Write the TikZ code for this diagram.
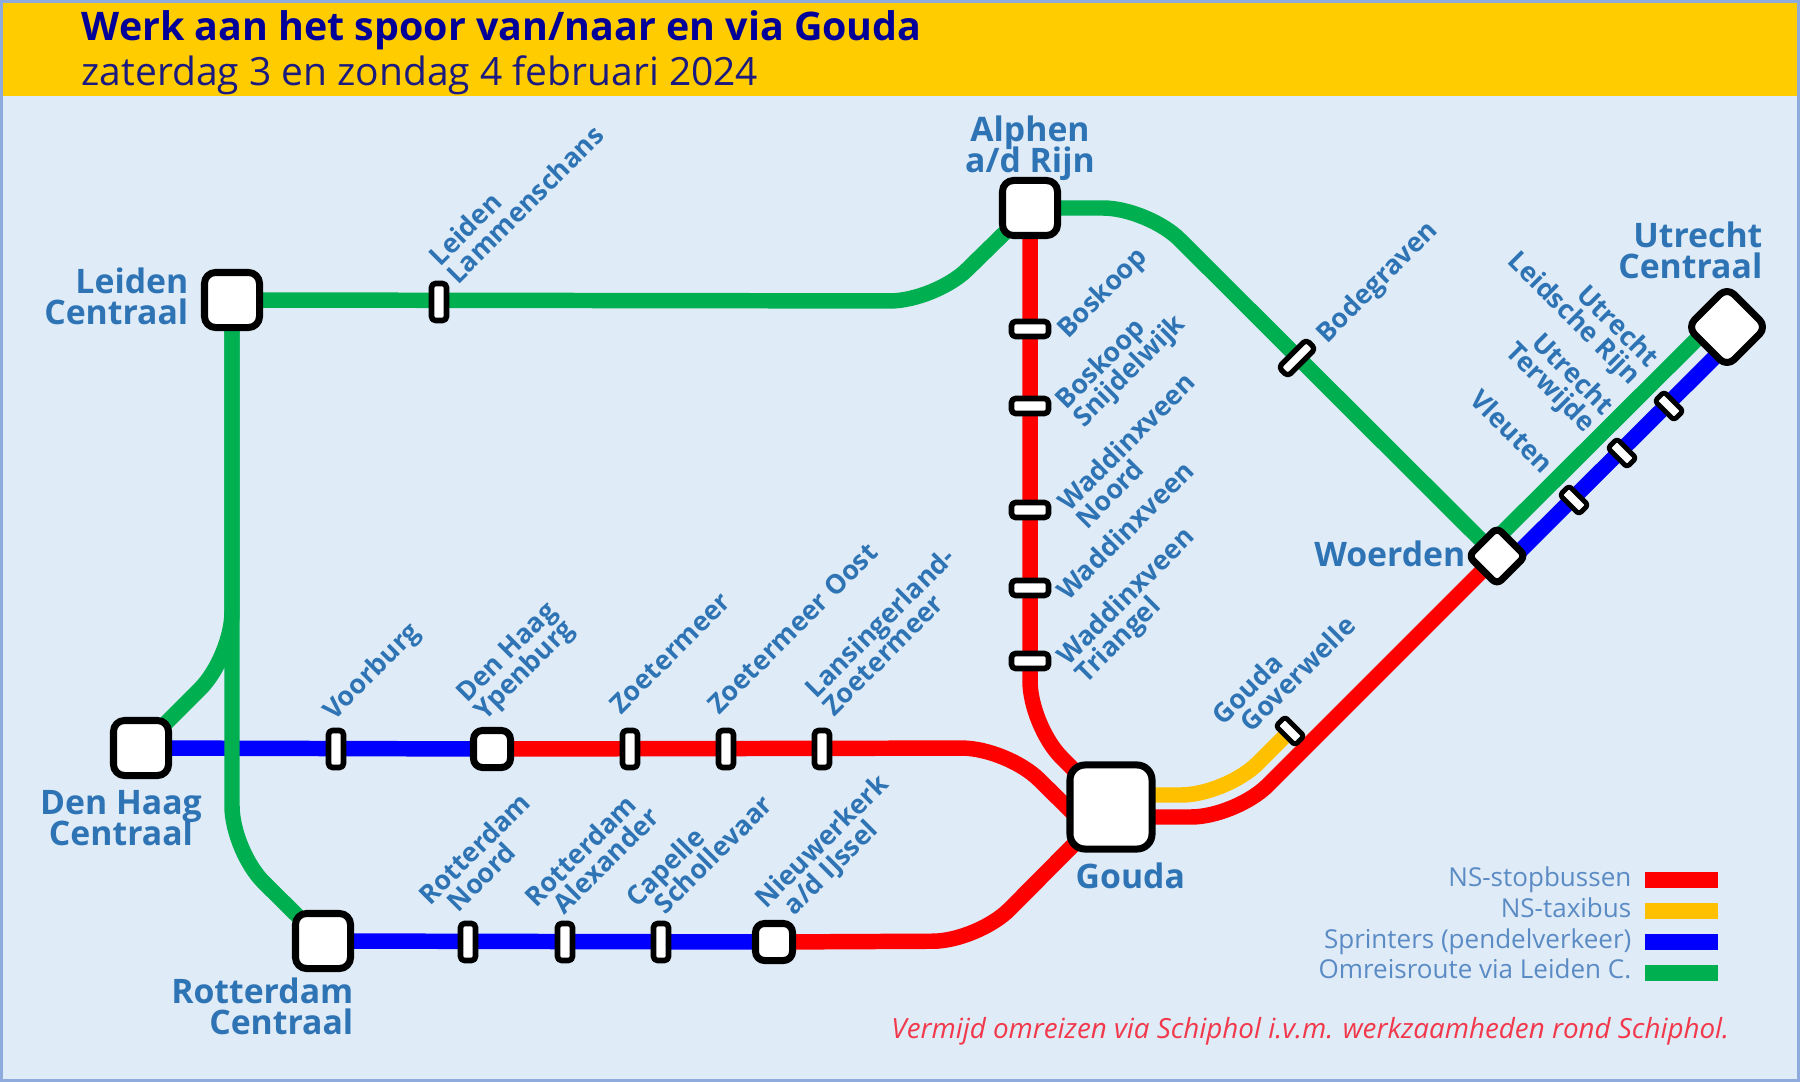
\documentclass[tikz,border=0pt]{standalone}
\usepackage{fontspec}
\setmainfont{Open Sans}
\newfontfamily\semifont{Open Sans Bold}
\usetikzlibrary{backgrounds}
\newcommand{\tightlines}{\lineskiplimit-50pt\relax}
\newcommand{\indented}{\hspace*{4.3pt}}
\definecolor{panelblue}{HTML}{DFEBF7}
\definecolor{borderblue}{HTML}{8FAADC}
\definecolor{headyellow}{HTML}{FFCC00}
\definecolor{titleblue}{HTML}{000099}
\definecolor{subblue}{HTML}{1A1A80}
\definecolor{labelblue}{HTML}{2E74B5}
\definecolor{legendblue}{HTML}{5B8BC4}
\definecolor{routegreen}{HTML}{00B050}
\definecolor{routeyellow}{HTML}{FFC000}
\definecolor{warnred}{HTML}{F2394B}
\begin{document}
\begin{tikzpicture}[x=0.01cm,y=-0.01cm,line join=round,
    hub/.style={draw=black,line width=2pt,fill=white,rounded corners=1.1mm,inner sep=0pt,minimum size=5.5mm},
    smallhub/.style={hub,rounded corners=0.9mm,minimum size=3.7mm},
    tiltedhub/.style={hub,rotate=45,minimum size=4mm,rounded corners=0.6mm},
    stopup/.style={draw=black,line width=1.6pt,fill=white,rounded corners=0.4mm,inner sep=0pt,minimum width=1.5mm,minimum height=3.7mm},
    stopflat/.style={stopup,minimum width=3.7mm,minimum height=1.5mm},
    stoptilt/.style={stopup,rotate=-45,line width=1.4pt,minimum width=2.7mm,minimum height=1.3mm,rounded corners=0.3mm},
    route/.style={line width=4.4pt,rounded corners=0.45cm},
    biglabel/.style={text=labelblue,inner sep=0pt,text depth=0pt,font=\semifont\fontsize{9.6}{8.8}\selectfont\tightlines},
    uplabel/.style={text=labelblue,inner sep=0pt,text depth=0pt,rotate=45,anchor=south west,align=left,font=\semifont\fontsize{7.6}{7.1}\selectfont\tightlines},
    downlabel/.style={text=labelblue,inner sep=0pt,text depth=0pt,rotate=-45,anchor=south east,align=right,font=\semifont\fontsize{7.6}{7.1}\selectfont\tightlines},
    swatch/.style={inner sep=0pt,minimum width=7.3mm,minimum height=1.6mm},
    legendtext/.style={text=legendblue,inner sep=0pt,anchor=base east,font=\fontsize{7.4}{8}\selectfont}]
\useasboundingbox (0,0) rectangle (1800,1082);
% stations
\node[hub] (leiden) at (232,300) {};
\node[hub] (alphen) at (1030,208) {};
\node[hub] (denhaag) at (141,748) {};
\node[hub] (rotterdam) at (323,941) {};
\node[hub,minimum width=8.2mm,minimum height=8.4mm,rounded corners=1.5mm] (gouda) at (1111,807) {};
\node[tiltedhub] (woerden) at (1497,556) {};
\node[tiltedhub,minimum size=5.6mm,rounded corners=1mm] (utrecht) at (1727,327) {};
\node[smallhub] (ypenburg) at (492,749) {};
\node[smallhub] (nieuwerkerk) at (774,942) {};
% stops
\node[stopup] (lammenschans) at (439,302) {};
\node[stopup] (voorburg) at (336,749) {};
\node[stopup] (zoetermeer) at (630,749) {};
\node[stopup] (zoetermeeroost) at (726,749) {};
\node[stopup] (lansingerland) at (822,749) {};
\node[stopup] (rnoord) at (468,942) {};
\node[stopup] (ralexander) at (565,942) {};
\node[stopup] (capelle) at (661,942) {};
\node[stopflat] (boskoop) at (1030,329) {};
\node[stopflat] (snijdelwijk) at (1030,406) {};
\node[stopflat] (wnoord) at (1030,510) {};
\node[stopflat] (waddinxveen) at (1030,588) {};
\node[stopflat] (triangel) at (1030,661) {};
\node[stopup,rotate=45,minimum width=3.9mm,minimum height=1.3mm,line width=1.5pt] (bodegraven) at (1297,358) {};
\node[stoptilt] (goverwelle) at (1290,731) {};
\node[stoptilt] (vleuten) at (1574,500) {};
\node[stoptilt] (terwijde) at (1622,453) {};
\node[stoptilt] (leidscherijn) at (1669,406) {};
% routes
\coordinate (leidenbend) at (935,301);
\coordinate (alphenbend) at (1148,208);
\coordinate (denhaagbend) at (232,657);
\coordinate (rotterdambend) at (232,851);
\coordinate (upperbend) at (1007,748);
\coordinate (lowerbend) at (978,941);
\coordinate (verticalbend) at (1030,726);
\coordinate (taxibend) at (1226,795);
\coordinate (bottombend) at (1236,817);
\begin{scope}[on background layer]
\fill[panelblue,draw=borderblue,line width=0.8pt] (1.5,1.5) rectangle (1798.5,1080.5);
\fill[headyellow] (3,3) rectangle (1797,96);
\draw[route,blue] (denhaag.center) -- (ypenburg.center);
\draw[route,blue] (rotterdam.center) -- (nieuwerkerk.center);
\draw[route,blue] ([shift={(9,9)}]woerden.center) -- ([shift={(9,9)}]utrecht.center);
\draw[route,routegreen] ([shift={(-9,-9)}]woerden.center) -- ([shift={(-9,-9)}]utrecht.center);
\draw[route,red] (ypenburg.center) -- (upperbend) -- ([shift={(-30,14)}]gouda.center);
\draw[route,red] (nieuwerkerk.center) -- (lowerbend) -- (gouda.center);
\draw[route,red] (alphen.center) -- (verticalbend) -- (gouda.center);
\draw[route,red] ([shift={(0,10)}]gouda.center) -- (bottombend) -- (woerden.center);
\draw[route,routeyellow] ([shift={(0,-12)}]gouda.center) -- (taxibend) -- (goverwelle.center);
\draw[route,routegreen] (leiden.center) -- (leidenbend) -- (alphen.center);
\draw[route,routegreen] (alphen.center) -- (alphenbend) -- (woerden.center);
\draw[route,routegreen] (leiden.center) -- (denhaagbend) -- (denhaag.center);
\draw[route,routegreen] (leiden.center) -- (rotterdambend) -- (rotterdam.center);
\end{scope}
% header
\node[inner sep=0pt,anchor=base west,text=titleblue,font=\bfseries\fontsize{11.2}{12}\selectfont] (title) at (81,40.5) {Werk aan het spoor van/naar en via Gouda};
\node[inner sep=0pt,anchor=base west,text=subblue,font=\fontsize{11.08}{12}\selectfont] (subtitle) at (81,85.5) {zaterdag 3 en zondag 4 februari 2024};
% big labels
\node[biglabel,anchor=south east,align=right] (leidentext) at (189,325) {Leiden\\Centraal};
\node[biglabel,anchor=south,align=center] (alphentext) at (1030,173) {Alphen\\a/d Rijn};
\node[biglabel,anchor=south east,align=right] (utrechttext) at (1763,279) {Utrecht\\Centraal};
\node[biglabel,anchor=south east] (woerdentext) at (1466,567) {Woerden};
\node[biglabel,anchor=south,align=center] (denhaagtext) at (121,846) {Den Haag\\Centraal};
\node[biglabel,anchor=south east,align=right] (rotterdamtext) at (354,1035) {Rotterdam\\Centraal};
\node[biglabel,anchor=south west] (goudatext) at (1075,889) {Gouda};
% small labels
\node[uplabel] (lammenschanstext) at (458,286) {Leiden\\Lammenschans};
\node[uplabel] (voorburgtext) at (334,722) {Voorburg};
\node[uplabel] (ypenburgtext) at (485,722) {Den Haag\\Ypenburg};
\node[uplabel] (zoetermeertext) at (621,716) {Zoetermeer};
\node[uplabel] (zoetermeeroosttext) at (719,716) {Zoetermeer Oost};
\node[uplabel] (lansingerlandtext) at (834,718) {Lansingerland-\\Zoetermeer};
\node[uplabel] (rnoordtext) at (448,925) {Rotterdam\\\indented Noord};
\node[uplabel] (ralexandertext) at (554,927) {Rotterdam\\\indented Alexander};
\node[uplabel] (capelletext) at (655,927) {Capelle\\\indented Schollevaar};
\node[uplabel] (nieuwerkerktext) at (784,928) {Nieuwerkerk\\\indented a/d IJssel};
\node[uplabel] (boskooptext) at (1068,340) {Boskoop};
\node[uplabel] (snijdelwijktext) at (1084,429) {Boskoop\\Snijdelwijk};
\node[uplabel] (wnoordtext) at (1087,531) {Waddinxveen\\Noord};
\node[uplabel] (waddinxveentext) at (1068,602) {Waddinxveen};
\node[uplabel] (triangeltext) at (1086,685) {Waddinxveen\\Triangel};
\node[uplabel] (bodegraventext) at (1327,345) {Bodegraven};
\node[uplabel] (goverwelletext) at (1241,745) {Gouda\\\indented Goverwelle};
\node[downlabel] (vleutentext) at (1542,476) {Vleuten};
\node[downlabel] (terwijdetext) at (1585,435) {Utrecht\\Terwijde};
\node[downlabel] (leidscherijntext) at (1630,387) {Utrecht\\Leidsche Rijn};
% legend
\node[swatch,fill=red] (legendred) at (1681,880) {};
\node[swatch,fill=routeyellow] (legendyellow) at (1681,911) {};
\node[swatch,fill=blue] (legendblueline) at (1681,942) {};
\node[swatch,fill=routegreen] (legendgreen) at (1681,973) {};
\node[legendtext] (legendredtext) at (1632,886) {NS-stopbussen};
\node[legendtext] (legendyellowtext) at (1632,917) {NS-taxibus};
\node[legendtext] (legendbluetext) at (1632,948) {Sprinters (pendelverkeer)};
\node[legendtext] (legendgreentext) at (1632,978) {Omreisroute via Leiden C.};
\node[inner sep=0pt,anchor=base east,text=warnred,font=\itshape\fontsize{7.9}{8}\selectfont] (warning) at (1730,1038) {Vermijd omreizen via Schiphol i.v.m. werkzaamheden rond Schiphol.};
\end{tikzpicture}
\end{document}
